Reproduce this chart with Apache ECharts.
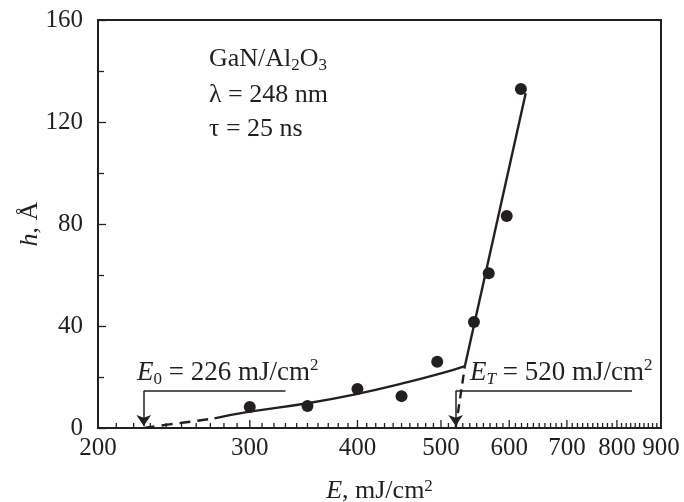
<!DOCTYPE html>
<html>
<head>
<meta charset="utf-8">
<script src="https://cdn.jsdelivr.net/npm/echarts@6/dist/echarts.min.js"></script>
<style>
html,body{margin:0;padding:0;background:#fff;}
#chart{width:684px;height:502px;}
</style>
</head>
<body>
<div id="chart"></div>
<script>
// ---- data ----
const pointE = [300, 350, 400, 450, 495, 546, 568, 596, 619];
const pointH = [8.2, 8.6, 15.3, 12.5, 26.0, 41.6, 60.7, 83.1, 132.9];

const lowDashE = [226, 242, 259, 273];
const lowDashH = [0, 1.4, 2.7, 3.8];
const lowE = [273, 300, 350, 400, 450, 500, 533];
const lowH = [3.8, 6.4, 9.7, 13.4, 17.4, 21.4, 24.3];

const upDashE = [520, 533];
const upDashH = [0, 24.3];
const upE = [533, 627];
const upH = [24.3, 131.3];

const E0 = 226;
const ET = 520;

const xMajorTicks = [200, 300, 400, 500, 600, 700, 800, 900];
const xMajorLabels = ['200', '300', '400', '500', '600', '700', '800', '900'];
const xMinorTicks = [210, 220, 230, 240, 250, 260, 270, 280, 290,
  310, 320, 330, 340, 350, 360, 370, 380, 390,
  410, 420, 430, 440, 450, 460, 470, 480, 490,
  510, 520, 530, 540, 550, 560, 570, 580, 590,
  610, 620, 630, 640, 650, 660, 670, 680, 690,
  710, 720, 730, 740, 750, 760, 770, 780, 790,
  810, 820, 830, 840, 850, 860, 870, 880, 890];
const yTicks = [0, 40, 80, 120, 160];

// ---- styling ----
const ink = '#231f20';
const FONT = '"Liberation Serif", "Times New Roman", serif';
const FS = 25;   // tick labels
const FT = 26;   // titles / info
const FA = 27;   // annotations
const FSUB = 17;

const zip = (a, b) => a.map((v, i) => [v, b[i]]);

const tickData = xMinorTicks.map(v => [v, 0, 0, ''])
  .concat(xMajorTicks.map((v, i) => [v, 0, 1, xMajorLabels[i]]));

const subStyle = {fontFamily: FONT, fontSize: FSUB, fill: ink, verticalAlign: 'bottom', padding: [14, 0, 0, 0]};
const supStyle = {fontFamily: FONT, fontSize: FSUB, fill: ink, verticalAlign: 'top', padding: [0, 0, 10, 0]};

const chart = echarts.init(document.getElementById('chart'), null, {renderer: 'canvas'});

const option = {
  animation: false,
  backgroundColor: '#fff',
  grid: {left: 98, right: 23, top: 20, bottom: 74, show: true, borderColor: ink, borderWidth: 2,
         backgroundColor: 'transparent', containLabel: false, outerBoundsMode: 'none'},
  xAxis: {
    type: 'log', logBase: 10, min: 200, max: 900,
    axisLine: {show: true, lineStyle: {color: ink, width: 2}},
    axisTick: {show: false}, axisLabel: {show: false}, splitLine: {show: false}, minorTick: {show: false},
    name: '{i|E}, mJ/cm{s|2}',
    nameLocation: 'middle', nameGap: 50,
    nameTextStyle: {
      color: ink, fontFamily: FONT, fontSize: FT,
      rich: {
        i: {fontStyle: 'italic', fontFamily: FONT, fontSize: FT, color: ink},
        s: {fontFamily: FONT, fontSize: FSUB, color: ink, verticalAlign: 'top', padding: [0, 0, 10, 0]}
      }
    }
  },
  yAxis: {
    type: 'value', min: 0, max: 160, interval: 40,
    axisLine: {show: true, lineStyle: {color: ink, width: 2}},
    axisTick: {show: true, inside: true, length: 8, lineStyle: {color: ink, width: 1.3}},
    minorTick: {show: true, splitNumber: 2, length: 6, lineStyle: {color: ink, width: 1.3}},
    splitLine: {show: false},
    axisLabel: {color: ink, fontFamily: FONT, fontSize: FS, margin: 15},
    name: '{i|h}, Å',
    nameLocation: 'middle', nameGap: 55, nameRotate: 90, nameMoveOverlap: false,
    nameTextStyle: {
      color: ink, fontFamily: FONT, fontSize: FT,
      rich: {i: {fontStyle: 'italic', fontFamily: FONT, fontSize: FT, color: ink}}
    }
  },
  series: [
    {
      type: 'custom', name: 'xticks', clip: false, silent: true,
      data: tickData,
      renderItem: function (params, api) {
        const p = api.coord([api.value(0), api.value(1)]);
        const major = api.value(2) === 1;
        const len = major ? 8 : 5;
        const children = [{
          type: 'line',
          shape: {x1: p[0], y1: p[1], x2: p[0], y2: p[1] - len},
          style: {stroke: ink, lineWidth: 1.3}
        }];
        if (major) {
          children.push({
            type: 'text', x: p[0], y: p[1] + 8,
            style: {text: api.value(3), fontFamily: FONT, fontSize: FS, fill: ink, align: 'center', verticalAlign: 'top'}
          });
        }
        return {type: 'group', children: children};
      }
    },
    {
      type: 'line', data: zip(lowDashE, lowDashH), smooth: true, symbol: 'none',
      lineStyle: {color: ink, width: 2.4, type: [11, 7]}
    },
    {
      type: 'line', data: zip(lowE, lowH), smooth: true, symbol: 'none',
      lineStyle: {color: ink, width: 2.4}
    },
    {
      type: 'line', data: zip(upDashE, upDashH), symbol: 'none',
      lineStyle: {color: ink, width: 2.4, type: [9, 6]}
    },
    {
      type: 'line', data: zip(upE, upH), symbol: 'none',
      lineStyle: {color: ink, width: 2.4}
    },
    {
      type: 'scatter', data: zip(pointE, pointH), symbol: 'circle', symbolSize: 12,
      itemStyle: {color: ink, opacity: 1}, silent: true,
      markLine: {
        silent: true, symbol: ['none', 'arrow'], symbolSize: 11,
        label: {show: false},
        lineStyle: {color: ink, width: 1.5, type: 'solid', opacity: 1},
        data: [
          [{coord: [E0, 14.5]}, {coord: [E0, 0.8]}],
          [{coord: [ET, 14.5]}, {coord: [ET, 0.8]}]
        ]
      }
    },
    {
      type: 'line', data: [], symbol: 'none',
      markLine: {
        silent: true, symbol: ['none', 'none'],
        label: {show: false},
        lineStyle: {color: ink, width: 1.5, type: 'solid', opacity: 1},
        data: [
          [{coord: [E0, 14.5]}, {coord: [330, 14.5]}],
          [{coord: [ET, 14.5]}, {coord: [833, 14.5]}]
        ]
      }
    }
  ],
  graphic: [
    {
      type: 'text', x: 209, y: 59, silent: true,
      style: {
        text: 'GaN/Al{s|2}O{s|3}', fontFamily: FONT, fontSize: FT, fill: ink, verticalAlign: 'middle',
        rich: {s: subStyle}
      }
    },
    {
      type: 'text', x: 209, y: 95, silent: true,
      style: {text: 'λ = 248 nm', fontFamily: FONT, fontSize: FT, fill: ink, verticalAlign: 'middle'}
    },
    {
      type: 'text', x: 209, y: 129, silent: true,
      style: {text: 'τ = 25 ns', fontFamily: FONT, fontSize: FT, fill: ink, verticalAlign: 'middle'}
    },
    {
      type: 'text', x: 137, y: 373, silent: true,
      style: {
        text: '{i|E}{sb|0} = 226 mJ/cm{sp|2}', fontFamily: FONT, fontSize: FA, fill: ink, verticalAlign: 'middle',
        rich: {
          i: {fontStyle: 'italic', fontFamily: FONT, fontSize: FA, fill: ink},
          sb: subStyle,
          sp: supStyle
        }
      }
    },
    {
      type: 'text', x: 470, y: 373, silent: true,
      style: {
        text: '{i|E}{sbi|T} = 520 mJ/cm{sp|2}', fontFamily: FONT, fontSize: FA, fill: ink, verticalAlign: 'middle',
        rich: {
          i: {fontStyle: 'italic', fontFamily: FONT, fontSize: FA, fill: ink},
          sbi: Object.assign({}, subStyle, {fontStyle: 'italic'}),
          sp: supStyle
        }
      }
    }
  ]
};
chart.setOption(option);
</script>
</body>
</html>
